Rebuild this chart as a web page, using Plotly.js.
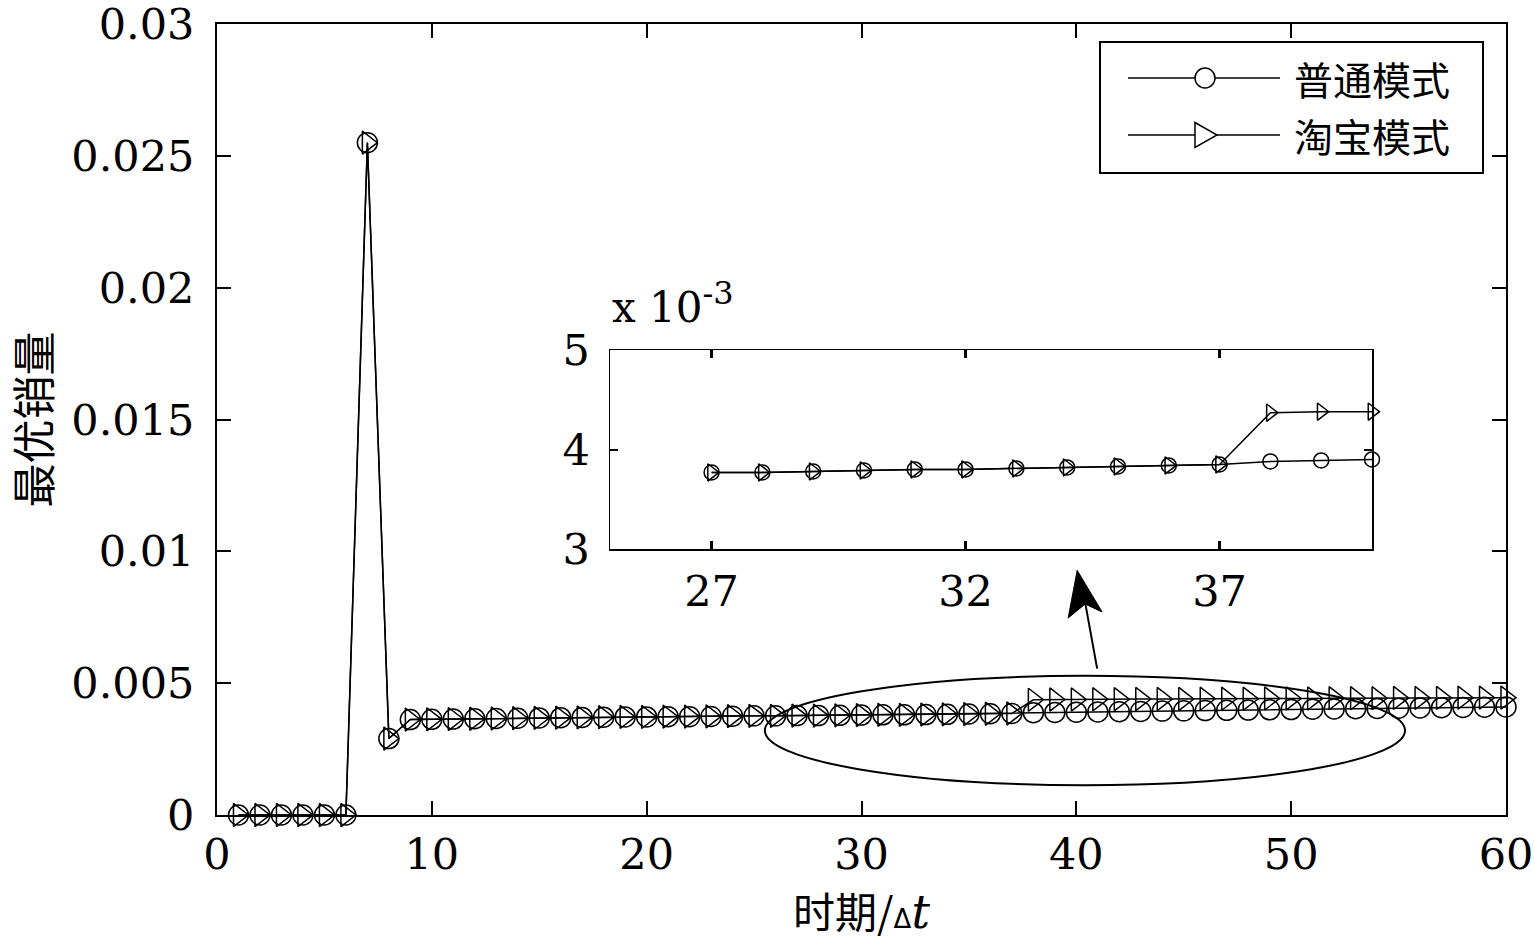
<!DOCTYPE html>
<html><head><meta charset="utf-8">
<script src="https://cdn.plot.ly/plotly-3.0.1.min.js"></script>
<style>html,body{margin:0;padding:0;background:#fff}</style>
</head><body><div id="chart" style="width:1535px;height:940px"></div>
<script>
const periods = [1,2,3,4,5,6,7,8,9,10,11,12,13,14,15,16,17,18,19,20,21,22,23,24,25,26,27,28,29,30,31,32,33,34,35,36,37,38,39,40,41,42,43,44,45,46,47,48,49,50,51,52,53,54,55,56,57,58,59,60];
const ordinary = [0,0,0,0,0,0,0.0255,0.0029,
  0.00362,0.00363,0.00364,0.00365,0.00366,0.00367,0.00368,0.00369,0.00370,0.00371,
  0.00372,0.00372,0.00373,0.00373,0.00374,0.00375,0.00376,0.00376,0.00377,0.00377,
  0.00378,0.00379,0.00380,0.00380,0.00381,0.00382,0.00383,0.00384,0.00385,
  0.00388,0.00389,0.00390,0.00391,0.00392,0.00393,0.00394,0.00395,0.00396,0.00397,
  0.00398,0.00399,0.00400,0.00401,0.00402,0.00403,0.00404,0.00405,0.00406,0.00407,
  0.00408,0.00409,0.00410];
const taobao = [0,0,0,0,0,0,0.0255,0.0029,
  0.00362,0.00363,0.00364,0.00365,0.00366,0.00367,0.00368,0.00369,0.00370,0.00371,
  0.00372,0.00372,0.00373,0.00373,0.00374,0.00375,0.00376,0.00376,0.00377,0.00377,
  0.00378,0.00379,0.00380,0.00380,0.00381,0.00382,0.00383,0.00384,0.00385,
  0.00437,0.00438,0.00438,0.00439,0.00439,0.00440,0.00440,0.00440,0.00441,0.00441,
  0.00441,0.00442,0.00442,0.00442,0.00443,0.00443,0.00443,0.00444,0.00444,0.00444,
  0.00445,0.00445,0.00445];
const seriesNames = ['普通模式','淘宝模式'];
const mainXTicks = [0,10,20,30,40,50,60];
const mainYTicks = [0,0.005,0.01,0.015,0.02,0.025,0.03];
const mainYTickLabels = ['0','0.005','0.01','0.015','0.02','0.025','0.03'];
const insetXTicks = [27,32,37];
const insetYTicks = [0.003,0.004,0.005];
const insetYTickLabels = ['3','4','5'];
const insetFirst = 27, insetLast = 40;

const serif = 'DejaVu Serif';
const cjk = 'Noto Sans CJK SC';
const insetIdx = periods.map((p,i)=>i).filter(i=>periods[i]>=insetFirst && periods[i]<=insetLast);
const pick = (arr)=>insetIdx.map(i=>arr[i]);

function tr(x,y,sym,size,xa,ya){
  return {x:x,y:y,type:'scatter',mode:'lines+markers',xaxis:xa,yaxis:ya,showlegend:false,
    line:{color:'#000',width:1.5},
    marker:{symbol:sym,size:size,color:'#000',line:{color:'#000',width:1.5}},
    cliponaxis:false,hoverinfo:'skip'};
}
const data = [
  tr(periods,ordinary,'circle-open',20,'x','y'),
  tr(periods,taobao,'triangle-right-open',20,'x','y'),
  tr(pick(periods),pick(ordinary),'circle-open',15,'x2','y2'),
  tr(pick(periods),pick(taobao),'triangle-right-open',15,'x2','y2')
];
data[0].name = seriesNames[0]; data[1].name = seriesNames[1];

const axBase = {showgrid:false,zeroline:false,showline:true,linecolor:'#000',linewidth:2,
  mirror:'ticks',ticks:'inside',tickcolor:'#000',tickwidth:2,ticklabeloverflow:'allow',
  tickfont:{family:serif,size:43,color:'#000'}};

// plot area in pixels: left 217, right 1506, top 24, bottom 815
const PW = 1289, PH = 791;
const px = (X)=> (X-217)/PW, py = (Y)=> (815-Y)/PH;
const L = {x0:px(1100),x1:px(1483),y0:py(173),y1:py(42)};
const rowY = [py(78),py(135)];
const lineX = [px(1128),px(1280)], mkX = px(1205);
const rx = 10/PW, ry = 10/PH;
const shapes = [
  {type:'circle',xref:'x',yref:'y',x0:25.5,x1:55.3,y0:0.00113,y1:0.00528,line:{color:'#000',width:2}},
  // arrow pointing to the inset
  {type:'line',xref:'x',yref:'y',x0:40.97,y0:0.00555,x1:40.40,y1:0.00810,line:{color:'#000',width:2}},
  {type:'path',xref:'x',yref:'y',path:'M40.04,0.00928 L41.20,0.00770 L40.41,0.00800 L39.62,0.00747 Z',
   line:{color:'#000',width:1},fillcolor:'#000'},
  {type:'rect',xref:'paper',yref:'paper',x0:L.x0,x1:L.x1,y0:L.y0,y1:L.y1,line:{color:'#000',width:2},fillcolor:'#fff'},
  {type:'line',xref:'paper',yref:'paper',x0:lineX[0],x1:lineX[1],y0:rowY[0],y1:rowY[0],line:{color:'#000',width:1.5}},
  {type:'line',xref:'paper',yref:'paper',x0:lineX[0],x1:lineX[1],y0:rowY[1],y1:rowY[1],line:{color:'#000',width:1.5}},
  {type:'circle',xref:'paper',yref:'paper',x0:mkX-rx,x1:mkX+rx,y0:rowY[0]-ry,y1:rowY[0]+ry,line:{color:'#000',width:1.5},fillcolor:'#fff'},
  {type:'path',xref:'paper',yref:'paper',
   path:'M'+(mkX-rx)+','+(rowY[1]+1.25*ry)+' L'+(mkX+1.2*rx)+','+rowY[1]+' L'+(mkX-rx)+','+(rowY[1]-1.25*ry)+' Z',
   line:{color:'#000',width:1.5},fillcolor:'#fff'}
];
const annotations = [
  {xref:'paper',yref:'paper',x:px(1292),y:rowY[0],xanchor:'left',yanchor:'middle',showarrow:false,
   text:seriesNames[0],font:{family:cjk,size:39,color:'#000'}},
  {xref:'paper',yref:'paper',x:px(1292),y:rowY[1],xanchor:'left',yanchor:'middle',showarrow:false,
   text:seriesNames[1],font:{family:cjk,size:39,color:'#000'}},
  {xref:'paper',yref:'paper',x:px(610),y:py(334),xanchor:'left',yanchor:'bottom',showarrow:false,
   text:'x 10<sup><span style="font-size:32px">-3</span></sup>',font:{family:serif,size:42,color:'#000'}}
];

const layout = {
  width:1535,height:940,
  margin:{l:217,r:29,t:24,b:125},
  paper_bgcolor:'#fff',plot_bgcolor:'#fff',
  showlegend:false,
  xaxis:Object.assign({},axBase,{range:[0,60],domain:[0,1],anchor:'y',tickvals:mainXTicks,ticklen:14,
    ticklabelstandoff:0,
    title:{text:'时期/<span style="font-family:DejaVu Sans;font-size:26px">Δ</span><i><span style="font-family:DejaVu Serif;font-size:46px">t</span></i>',
      font:{family:cjk,size:42,color:'#000'},standoff:8}}),
  yaxis:Object.assign({},axBase,{range:[0,0.03],domain:[0,1],anchor:'x',tickvals:mainYTicks,ticktext:mainYTickLabels,ticklen:14,
    ticklabelstandoff:12,
    title:{text:'最优销量',font:{family:cjk,size:44,color:'#000'},standoff:26}}),
  xaxis2:Object.assign({},axBase,{range:[25,40],domain:[px(610),px(1372)],anchor:'y2',tickvals:insetXTicks,ticklen:8,tickwidth:2.5,
    linewidth:1.5,ticklabelstandoff:4}),
  yaxis2:Object.assign({},axBase,{range:[0.003,0.005],domain:[py(549),py(350)],anchor:'x2',tickvals:insetYTicks,ticktext:insetYTickLabels,
    ticklen:8,linewidth:1.5,ticklabelstandoff:10}),
  shapes:shapes,
  annotations:annotations
};
Plotly.newPlot('chart',data,layout,{displayModeBar:false,staticPlot:true});
</script></body></html>
